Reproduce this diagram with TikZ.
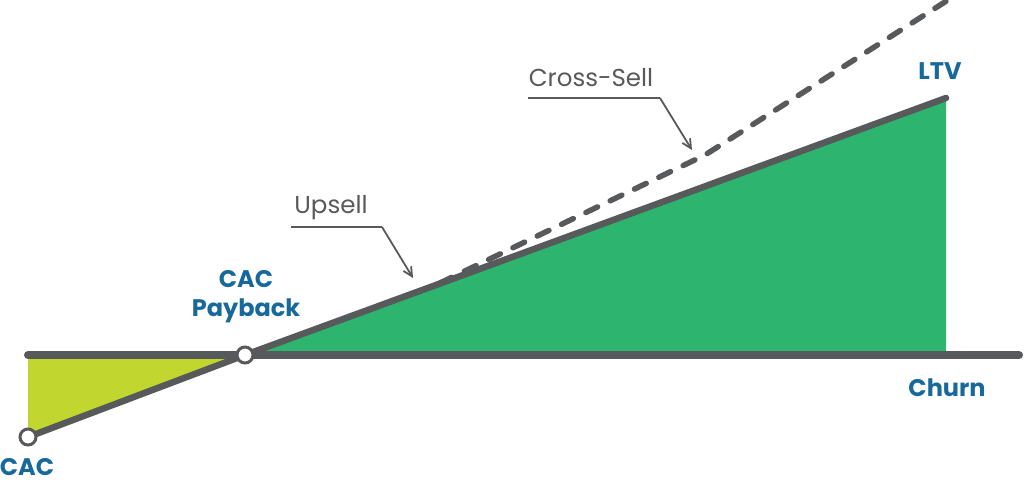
\documentclass[tikz,border=0pt]{standalone}
\usepackage{fontspec}
\setmainfont{Poppins}
\usetikzlibrary{arrows.meta}
\definecolor{axisgray}{HTML}{58595B}
\definecolor{ltvgreen}{HTML}{2DB46E}
\definecolor{cacgreen}{HTML}{C1D72F}
\definecolor{labelblue}{HTML}{17699B}
\begin{document}
\begin{tikzpicture}[x=1pt,y=-1pt,
  axisline/.style={draw=axisgray,line width=8pt,line cap=round},
  mainline/.style={draw=axisgray,line width=6.5pt,line cap=round,line join=round},
  dashline/.style={draw=axisgray,line width=5.5pt,line cap=round,dash pattern=on 13pt off 14pt},
  callout/.style={draw=axisgray,line width=1.8pt},
  calloutarrow/.style={draw=axisgray,line width=1.8pt,-{Straight Barb[length=9pt,width=9pt,line width=1.8pt]}},
  dot/.style={circle,draw=axisgray,fill=white,line width=3pt,minimum size=16pt,inner sep=0pt},
  bluelabel/.style={text=labelblue,font=\fontsize{24}{29}\selectfont\bfseries,align=center,inner sep=0pt},
  graylabel/.style={text=axisgray,font=\fontsize{24.5}{29}\selectfont,inner sep=0pt}]
\useasboundingbox (0,0) rectangle (1024,484);
% key points
\coordinate (axL) at (28,355);
\coordinate (axR) at (1019,355);
\coordinate (cacpt) at (28,437);
\coordinate (paypt) at (245,355);
\coordinate (ltvpt) at (946,98);
\coordinate (ltvbase) at (946,355);
\coordinate (dashA) at (440,283);
\coordinate (dashB) at (705,155);
\coordinate (dashC) at (948,0);
% fills
\fill[cacgreen] (axL) -- (cacpt) -- (paypt) -- cycle;
\fill[ltvgreen] (paypt) -- (ltvpt) -- (ltvbase) -- cycle;
% lines
\draw[axisline] (axL) -- (axR);
\draw[dashline] (dashA) -- (dashB) -- (dashC);
\draw[mainline] (cacpt) -- (paypt) -- (ltvpt);
% points
\node[dot] (cac) at (cacpt) {};
\node[dot] (pay) at (paypt) {};
% labels
\node[bluelabel] (caclbl) at (27,467) {CAC};
\node[bluelabel] (paylbl) at (246,297) {CAC\\Payback};
\node[bluelabel] (ltvlbl) at (940,71) {LTV};
\node[bluelabel] (churnlbl) at (947,388) {Churn};
\node[graylabel] (upsell) at (331,208) {Upsell};
\node[graylabel] (cross) at (591,78) {Cross-Sell};
% callouts
\coordinate (upL) at (291,227);
\coordinate (upR) at (382,227);
\coordinate (upTip) at (413,278);
\coordinate (crL) at (528,98);
\coordinate (crR) at (660,98);
\coordinate (crTip) at (692,150);
\draw[callout] (upL) -- (upR);
\draw[calloutarrow] (upR) -- (upTip);
\draw[callout] (crL) -- (crR);
\draw[calloutarrow] (crR) -- (crTip);
\end{tikzpicture}
\end{document}
